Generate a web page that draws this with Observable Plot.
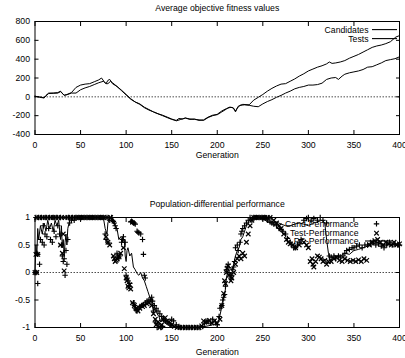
<!DOCTYPE html>
<html><head><meta charset="utf-8">
<script src="https://cdn.jsdelivr.net/npm/d3@7"></script>
<script src="https://cdn.jsdelivr.net/npm/@observablehq/plot@0.6"></script>
<style>
html,body{margin:0;padding:0;background:#fff;}
#c svg{display:block;}
</style></head><body><div id="c"></div>
<script>
// ---------- data ----------
const xTicks = [0, 50, 100, 150, 200, 250, 300, 350, 400];
const topYTicks = [-400, -200, 0, 200, 400, 600, 800];
const botYTicks = [-1, -0.5, 0, 0.5, 1];
const titles = ["Average objective fitness values", "Population-differential performance"];
const xLabel = "Generation";
const topSeries = ["Candidates", "Tests"];
const botSeries = ["Cand-Performance", "Test-Performance", "PC-Performance"];

// Average objective fitness: [generation, value]
const candidatesFit = [[0,5],[5,0],[10,-10],[12,15],[15,40],[20,40],[25,45],[28,60],[32,15],[35,25],[40,45],[45,100],[50,125],[55,135],[60,140],[65,160],[70,180],[73,200],[76,160],[78,140],[80,175],[82,185],[85,140],[90,110],[95,70],[100,25],[105,-20],[110,-55],[115,-75],[120,-110],[125,-135],[130,-160],[135,-180],[140,-195],[145,-215],[150,-235],[155,-255],[160,-240],[165,-225],[170,-235],[175,-240],[180,-245],[185,-250],[190,-220],[195,-200],[200,-185],[205,-150],[210,-125],[215,-110],[218,-120],[220,-160],[223,-100],[228,-80],[235,-85],[240,-35],[245,-5],[250,25],[255,60],[260,90],[265,115],[270,135],[275,140],[280,165],[285,190],[290,220],[295,245],[300,275],[305,295],[310,315],[315,330],[320,350],[323,370],[326,355],[330,360],[335,370],[340,385],[345,410],[350,430],[355,450],[360,475],[365,500],[370,525],[375,540],[380,550],[385,565],[390,585],[393,610],[396,635],[400,650]];
const testsFit = [[0,8],[5,-5],[10,-12],[12,10],[15,35],[20,38],[25,40],[28,55],[32,18],[35,22],[40,40],[45,40],[50,75],[55,95],[60,110],[65,130],[70,150],[75,165],[78,140],[80,140],[83,165],[85,150],[90,110],[95,65],[100,20],[105,-25],[110,-55],[115,-80],[120,-115],[125,-140],[130,-160],[135,-180],[140,-200],[145,-220],[150,-240],[155,-250],[158,-230],[162,-235],[165,-225],[170,-240],[175,-235],[180,-250],[185,-245],[190,-215],[195,-195],[200,-190],[205,-160],[210,-130],[213,-110],[217,-115],[220,-150],[222,-120],[225,-90],[230,-85],[235,-90],[240,-100],[245,-105],[250,-75],[255,-50],[260,-30],[265,-5],[270,15],[275,40],[280,60],[285,85],[290,100],[295,110],[300,125],[305,125],[310,130],[315,145],[320,185],[325,200],[330,205],[333,185],[337,220],[340,240],[345,255],[350,265],[355,275],[360,290],[365,315],[370,320],[375,340],[380,360],[385,385],[390,395],[395,405],[400,425]];

// Population-differential performance: [generation, value]
const candPerf = [[0,0],[1,0],[2,0.35],[3,-0.2],[3,0.33],[5,0.15],[1,1],[4,1],[6,0.6],[7,1],[8,0.55],[9,0.85],[10,0.5],[11,0.7],[12,1],[13,0.65],[15,0.8],[16,1],[17,0.6],[19,0.55],[20,1],[21,0.75],[23,0.65],[24,1],[25,0.85],[27,0.7],[28,1],[29,0.5],[30,0.3],[31,0.2],[32,0.25],[33,-0.05],[34,0.4],[35,0.15],[36,0.6],[37,1],[38,0.9],[40,0.95],[41,1],[43,0.95],[45,1],[48,1],[51,1],[54,1],[57,1],[60,1],[63,1],[66,1],[69,1],[72,1],[75,1],[77,0.7],[78,0.6],[79,1],[80,0.55],[82,0.95],[84,1],[85,0.95],[86,0.93],[87,0.9],[88,0.85],[89,0.8],[90,0.35],[91,0.3],[92,0.25],[93,0.3],[95,0.55],[96,0.6],[97,0.65],[99,0.55],[100,-0.05],[101,-0.1],[102,-0.15],[103,-0.25],[104,-0.2],[105,0.92],[106,0.93],[107,0.92],[108,0.9],[109,0.9],[110,0.88],[112,0.75],[113,0.73],[114,0.72],[116,0.7],[118,0.6],[119,0.33],[120,-0.05],[121,-0.1],[108,-0.55],[109,-0.6],[110,-0.65],[111,-0.68],[112,-0.7],[113,-0.65],[115,-0.62],[117,-0.6],[119,-0.58],[121,-0.55],[123,-0.52],[125,-0.5],[127,-0.5],[128,-0.45],[129,-0.52],[130,-0.7],[131,-0.6],[132,-0.9],[133,-0.65],[134,-1],[135,-0.7],[136,-0.95],[137,-0.75],[138,-1],[139,-0.8],[140,-0.98],[141,-0.85],[143,-0.88],[145,-0.9],[147,-0.92],[149,-0.95],[150,-0.85],[152,-0.88],[155,-0.95],[158,-0.98],[160,-1],[163,-1],[166,-1],[169,-1],[172,-1],[175,-1],[178,-1],[181,-1],[184,-0.98],[186,-0.92],[188,-0.9],[190,-0.88],[193,-0.92],[195,-0.85],[198,-0.9],[200,-0.95],[202,-0.8],[203,-0.65],[205,-0.6],[206,-0.5],[207,-0.45],[208,-0.4],[209,-0.25],[210,0.05],[211,0.1],[212,0.15],[213,0],[214,-0.05],[215,-0.1],[216,-0.05],[217,0.05],[218,0.1],[219,0.2],[220,0.45],[222,0.5],[223,0.4],[225,0.55],[226,0.7],[227,0.75],[228,0.8],[230,0.85],[232,0.9],[234,0.95],[236,1],[238,0.95],[240,1],[243,1],[246,1],[249,1],[250,0.98],[252,1],[255,0.95],[258,0.92],[260,0.9],[262,0.88],[265,0.85],[268,0.8],[270,0.78],[272,0.75],[275,0.7],[277,0.62],[280,0.55],[282,0.5],[284,0.45],[286,0.45],[288,0.5],[290,0.55],[292,0.6],[295,0.95],[298,0.98],[300,1],[303,0.95],[306,0.98],[310,0.95],[313,1],[316,0.95],[320,0.9],[323,0.3],[325,0.28],[328,0.3],[330,0.25],[333,0.3],[335,0.28],[338,0.3],[340,0.35],[342,0.4],[345,0.42],[348,0.45],[350,0.45],[353,0.48],[356,0.5],[359,0.45],[362,0.5],[365,0.5],[368,0.52],[371,0.55],[374,0.5],[377,0.52],[380,0.48],[383,0.45],[386,0.5],[389,0.55],[392,0.5],[395,0.52],[398,0.5],[400,0.5]];
const testPerf = [[0,0],[2,0],[1,0.33],[3,0.33],[2,1],[5,1],[8,1],[11,1],[14,1],[17,1],[20,1],[23,1],[26,1],[28,0.5],[29,1],[30,0.35],[31,0.7],[32,0.03],[33,1],[36,1],[39,1],[42,1],[45,1],[48,1],[51,1],[54,1],[57,1],[60,1],[63,1],[66,1],[69,1],[72,1],[75,1],[78,0.65],[79,1],[80,0.55],[82,0.5],[83,1],[86,0.3],[87,0.25],[88,0.2],[89,0.22],[90,0.25],[92,0.3],[94,0.35],[97,0.45],[98,0.07],[100,-0.1],[101,-0.15],[102,-0.25],[103,-0.28],[104,-0.22],[105,-0.3],[107,-0.55],[109,-0.6],[111,-0.65],[113,-0.7],[115,-0.65],[118,-0.62],[120,-0.6],[123,-0.57],[125,-0.55],[128,-0.6],[130,-0.75],[132,-0.85],[133,-0.95],[135,-0.9],[137,-1],[139,-0.95],[141,-0.85],[143,-0.82],[145,-0.88],[147,-0.9],[150,-0.95],[153,-0.98],[156,-1],[159,-1],[162,-1],[165,-1],[168,-1],[171,-1],[174,-1],[177,-1],[180,-1],[183,-0.97],[185,-0.88],[188,-0.9],[191,-0.87],[194,-0.92],[197,-0.88],[200,-0.92],[203,-0.85],[205,-0.6],[207,-0.38],[208,-0.15],[209,-0.2],[210,0],[211,0.08],[212,0.12],[213,-0.05],[215,-0.15],[216,-0.1],[218,0],[220,0.15],[222,0.25],[224,0.3],[226,0.25],[228,0.35],[230,0.3],[232,0.55],[234,0.7],[236,0.85],[238,0.95],[240,1],[243,1],[246,1],[249,1],[252,1],[255,1],[258,1],[262,0.95],[265,0.9],[268,0.85],[270,0.8],[273,0.7],[276,0.6],[278,0.55],[280,0.52],[283,0.5],[286,0.45],[290,0.5],[295,0.55],[298,0.5],[300,0.45],[302,0.2],[304,0.25],[305,0.15],[306,0.1],[308,0.2],[310,0.3],[312,0.28],[314,0.25],[316,0.2],[318,0.22],[320,0.15],[322,0.2],[325,0.2],[328,0.25],[331,0.28],[334,0.22],[337,0.2],[340,0.25],[343,0.22],[346,0.2],[349,0.22],[352,0.2],[355,0.23],[358,0.2],[361,0.25],[364,0.22],[367,0.5],[370,0.55],[373,0.58],[376,0.6],[379,0.55],[382,0.5],[385,0.55],[388,0.52],[391,0.5],[394,0.55],[397,0.5],[400,0.52]];
const pcPerf = [[0,0],[1,0.5],[2,0.3],[3,0.8],[4,0.6],[6,0.85],[8,0.7],[10,0.9],[12,0.75],[14,0.95],[16,0.8],[18,0.9],[20,0.75],[22,0.95],[24,0.85],[26,0.95],[28,0.6],[29,0.85],[30,0.45],[31,0.6],[32,0.3],[33,0.55],[34,0.7],[35,0.5],[36,0.8],[38,0.95],[40,1],[50,1],[60,1],[70,1],[75,1],[77,0.8],[79,0.7],[80,0.9],[82,1],[85,0.95],[87,0.9],[88,0.85],[90,0.8],[92,0.6],[94,0.65],[96,0.55],[98,0.6],[99,0.3],[100,0.2],[101,0.4],[102,0.45],[104,0.3],[106,0.35],[108,0.1],[110,0.05],[112,-0.02],[114,-0.05],[116,0],[118,-0.1],[120,-0.15],[122,-0.25],[124,-0.35],[126,-0.45],[128,-0.55],[130,-0.7],[132,-0.65],[134,-0.75],[136,-0.8],[138,-0.9],[140,-0.85],[142,-0.9],[145,-0.95],[150,-0.97],[155,-1],[160,-1],[170,-1],[180,-1],[190,-0.97],[195,-0.95],[200,-0.93],[202,-0.85],[204,-0.7],[206,-0.55],[208,-0.4],[209,-0.3],[210,-0.1],[212,0.05],[214,0.1],[216,0.05],[218,0.15],[220,0.3],[222,0.4],[224,0.45],[226,0.6],[228,0.65],[230,0.75],[232,0.85],[234,0.9],[236,0.98],[240,1],[245,1],[250,0.98],[255,0.92],[260,0.9],[265,0.92],[270,0.88],[275,0.85],[280,0.85],[285,0.88],[290,0.9],[295,0.88],[300,0.85],[305,0.9],[310,0.92],[315,0.95],[318,0.9],[320,0.6],[322,0.35],[324,0.2],[326,0.25],[330,0.3],[335,0.3],[340,0.35],[345,0.33],[350,0.4],[355,0.42],[360,0.45],[365,0.48],[370,0.5],[375,0.55],[380,0.52],[385,0.5],[390,0.52],[395,0.5],[400,0.5]];

// ---------- drawing ----------
const FONT = "'Liberation Sans', Arial, Helvetica, sans-serif";
const FS = 8.7;
const gx = d => d[0], gy = d => d[1];

function legendLines(rows) {
  return (index, scales, values, dims) => {
    const right = dims.width - dims.marginRight, topEdge = dims.marginTop;
    const g = d3.create("svg:g").attr("stroke", "black").attr("stroke-width", 1.1);
    rows.forEach(([dy, x1, x2]) => g.append("line")
      .attr("x1", right + x1).attr("x2", right + x2)
      .attr("y1", topEdge + dy).attr("y2", topEdge + dy));
    return g.node();
  };
}

function label(text, opts) {
  return Plot.text([text], {text: d => d, lineAnchor: "middle", ...opts});
}

function panel({height, mt, mb, yDomain, yTicks, title, labelDy, marks}) {
  return Plot.plot({
    width: 405, height,
    marginLeft: 34.5, marginRight: 6, marginTop: mt, marginBottom: mb,
    style: {fontFamily: FONT, fontSize: FS + "px", background: "white", color: "black"},
    x: {domain: [0, 400], label: null},
    y: {domain: yDomain, label: null},
    marks: [
      Plot.ruleY([0], {stroke: "black", strokeWidth: 0.7, strokeDasharray: "1.5,1.5"}),
      ...marks,
      Plot.frame({stroke: "black", strokeWidth: 1}),
      Plot.axisX(xTicks, {anchor: "bottom", tickSize: 4, dy: -4, tickPadding: 7, label: null, tickFormat: d => String(d)}),
      Plot.axisX(xTicks, {anchor: "top", tickSize: 4, dy: 4, label: null, tickFormat: () => ""}),
      Plot.axisY(yTicks, {anchor: "left", tickSize: 4, dx: 4, tickPadding: 5, label: null, tickFormat: d => String(d)}),
      Plot.axisY(yTicks, {anchor: "right", tickSize: 4, dx: -4, label: null, tickFormat: () => ""}),
      label(title, {frameAnchor: "top", dy: -13}),
      label(xLabel, {frameAnchor: "bottom", dy: labelDy})
    ]
  });
}

const topChart = panel({
  height: 180, mt: 21, mb: 46, yDomain: [-400, 800], yTicks: topYTicks,
  title: titles[0], labelDy: 21,
  marks: [
    Plot.line(testsFit, {x: gx, y: gy, stroke: "black", strokeWidth: 1}),
    Plot.line(candidatesFit, {x: gx, y: gy, stroke: "black", strokeWidth: 1}),
    label(topSeries[0], {frameAnchor: "top-right", dx: -31, dy: 8.6, textAnchor: "end"}),
    label(topSeries[1], {frameAnchor: "top-right", dx: -31, dy: 17.6, textAnchor: "end"}),
    legendLines([[8.6, -27, -2], [17.6, -27, -2]])
  ]
});

const bottomChart = panel({
  height: 178, mt: 37, mb: 31, yDomain: [-1, 1], yTicks: botYTicks,
  title: titles[1], labelDy: 25,
  marks: [
    Plot.line(pcPerf, {x: gx, y: gy, stroke: "black", strokeWidth: 1}),
    Plot.dot(candPerf, {x: gx, y: gy, symbol: "plus", r: 1.9, stroke: "black", strokeWidth: 1.15}),
    Plot.dot(testPerf, {x: gx, y: gy, symbol: "times", r: 2.2, stroke: "black", strokeWidth: 1.15}),
    label(botSeries[0], {frameAnchor: "top-right", dx: -41, dy: 6.3, textAnchor: "end"}),
    label(botSeries[1], {frameAnchor: "top-right", dx: -41, dy: 15.7, textAnchor: "end"}),
    label(botSeries[2], {frameAnchor: "top-right", dx: -41, dy: 24, textAnchor: "end"}),
    Plot.dot([botSeries[0]], {frameAnchor: "top-right", dx: -23, dy: 6.3, symbol: "plus", r: 1.9, stroke: "black", strokeWidth: 1.15}),
    Plot.dot([botSeries[1]], {frameAnchor: "top-right", dx: -23, dy: 15.7, symbol: "times", r: 2.2, stroke: "black", strokeWidth: 1.15}),
    legendLines([[24, -34, -7]])
  ]
});

document.getElementById("c").append(topChart, bottomChart);
</script>
</body></html>
